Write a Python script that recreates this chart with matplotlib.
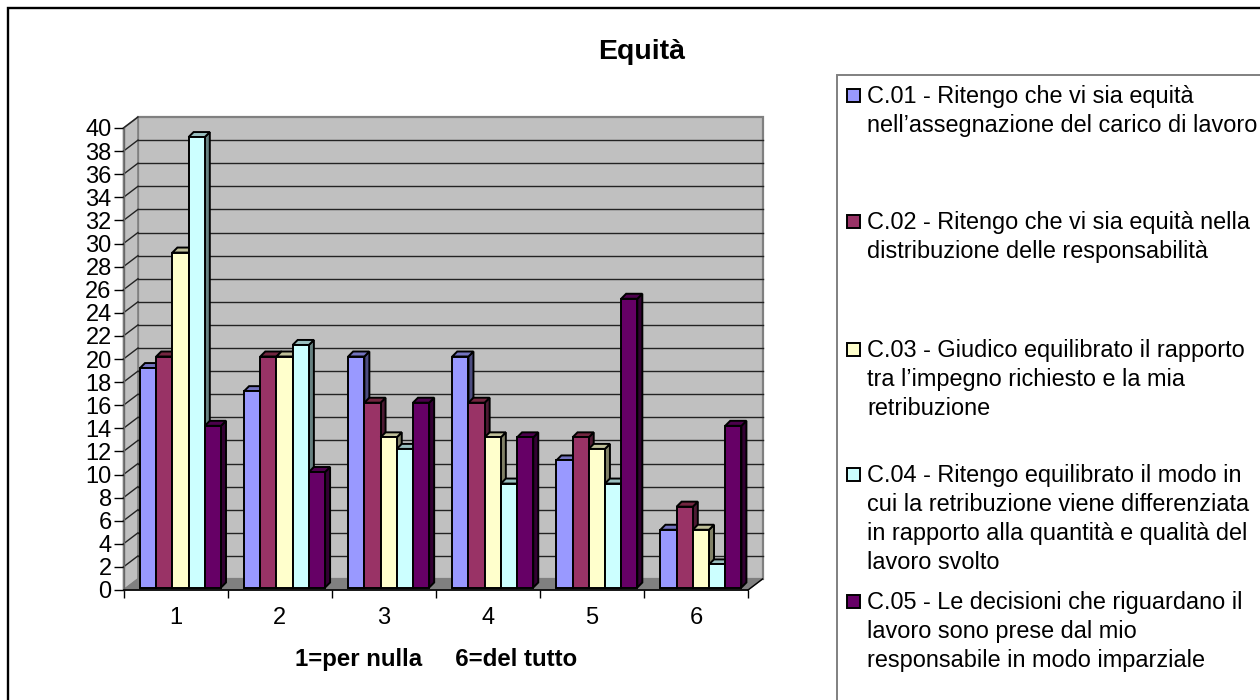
import matplotlib
matplotlib.use('Agg')
import matplotlib.pyplot as plt
from matplotlib.patches import Rectangle, Polygon

plt.rcParams['font.family'] = ['Liberation Sans', 'DejaVu Sans']

### data ###
categorie = ['1', '2', '3', '4', '5', '6']
c01 = [19, 17, 20, 20, 11, 5]
c02 = [20, 20, 16, 16, 13, 7]
c03 = [29, 20, 13, 13, 12, 5]
c04 = [39, 21, 12, 9, 9, 2]
c05 = [14, 10, 16, 13, 25, 14]
serie = [c01, c02, c03, c04, c05]
tick_y = list(range(0, 41, 2))
titolo = 'Equità'
xlabel = '1=per nulla     6=del tutto'
legenda = [
    ['C.01 - Ritengo che vi sia equità', 'nell’assegnazione del carico di lavoro'],
    ['C.02 - Ritengo che vi sia equità nella', 'distribuzione delle responsabilità'],
    ['C.03 - Giudico equilibrato il rapporto', 'tra l’impegno richiesto e la mia', 'retribuzione'],
    ['C.04 - Ritengo equilibrato il modo in', 'cui la retribuzione viene differenziata',
     'in rapporto alla quantità e qualità del', 'lavoro svolto'],
    ['C.05 - Le decisioni che riguardano il', 'lavoro sono prese dal mio',
     'responsabile in modo imparziale'],
]

colori = ['#9999FF', '#993366', '#FFFFCC', '#CCFFFF', '#660066']
colori_lato = ['#4C4C80', '#4D1A33', '#808066', '#668080', '#330033']
colori_top = ['#7373BF', '#732640', '#BFBF99', '#99BFBF', '#4D004D']
legenda_y = [103, 229, 357, 482, 609]   # baseline of first line of each entry

W, H = 1260, 700
fig = plt.figure(figsize=(W/100, H/100), dpi=100)

### page layer in pixels ###
bg = fig.add_axes([0, 0, 1, 1])
bg.set_xlim(0, W)
bg.set_ylim(H, 0)
bg.axis('off')
bg.plot([8, 8, W], [H, 7.5, 7.5], color='k', lw=1.7, solid_joinstyle='miter')
bg.plot([837, 837, W], [H, 75, 75], color='#808080', lw=1.4, solid_joinstyle='miter')
bg.text(642, 59, titolo, fontsize=20.5, fontweight='bold', ha='center', va='baseline')
bg.text(436, 666, xlabel, fontsize=17.3, fontweight='bold', ha='center', va='baseline')

for i, righe in enumerate(legenda):
    y = legenda_y[i]
    bg.add_patch(Rectangle((846.5, y-14.5), 13, 13, fc=colori[i], ec='k', lw=1.4))
    for k, r in enumerate(righe):
        bg.text(867, y+k*29, r, fontsize=16.9, ha='left', va='baseline')

### plot area: front plane of the 3D box ###
x0, x1, y0, y40 = 123.5, 748, 590, 128
ax = fig.add_axes([x0/W, 1-y0/H, (x1-x0)/W, (y0-y40)/H])
ax.patch.set_visible(False)
ax.set_xlim(0, 6)
ax.set_ylim(0, 40)
for s in ax.spines.values():
    s.set_visible(False)

ux = (x1-x0)/6   # px per category
uy = (y0-y40)/40  # px per unit
wall_dx, wall_dy = 14.5/ux, 11/uy
bar_dx, bar_dy = 5/ux, 5/uy
lift = 2.5/uy
start = 16.5/ux
w = 16.2/ux

### walls and floor ###
ax.add_patch(Polygon([(wall_dx, wall_dy), (6+wall_dx, wall_dy), (6+wall_dx, 40+wall_dy), (wall_dx, 40+wall_dy)],
                     fc='#C0C0C0', ec='#808080', lw=1.6, clip_on=False, zorder=1))
ax.add_patch(Polygon([(0, 0), (wall_dx, wall_dy), (wall_dx, 40+wall_dy), (0, 40)],
                     fc='#C0C0C0', ec='#808080', lw=1.2, clip_on=False, zorder=1))
ax.add_patch(Polygon([(0, 0), (6, 0), (6+wall_dx, wall_dy), (wall_dx, wall_dy)],
                     fc='#808080', ec='#808080', lw=1, clip_on=False, zorder=1))
for t in tick_y[1:-1]:
    ax.plot([wall_dx, 6+wall_dx], [t+wall_dy, t+wall_dy], color='#222222', lw=1, clip_on=False, zorder=2)
for t in tick_y[1:]:
    ax.plot([0, wall_dx], [t, t+wall_dy], color='#222222', lw=1, clip_on=False, zorder=2)
ax.plot([0, 0], [0, 40], color='#666666', lw=1, clip_on=False, zorder=2)
ax.plot([6, 6+wall_dx], [0, wall_dy], color='k', lw=1, clip_on=False, zorder=2)
ax.plot([0, 6], [0, 0], color='k', lw=1.2, clip_on=False, zorder=2)

### bars ###
z = 3
for g in range(len(categorie)):
    for s, val in enumerate(serie):
        v = val[g]
        xl = g + start + s*w
        xr = xl + w
        b = lift
        t = lift + v
        ax.fill([xr, xr+bar_dx, xr+bar_dx, xr], [b, b+bar_dy, t+bar_dy, t],
                fc=colori_lato[s], ec='k', lw=1.4, clip_on=False, zorder=z)
        ax.fill([xl, xr, xr+bar_dx, xl+bar_dx], [t, t, t+bar_dy, t+bar_dy],
                fc=colori_top[s], ec='k', lw=1.4, clip_on=False, zorder=z)
        ax.bar(xl, v, width=w, bottom=b, align='edge', color=colori[s], edgecolor='k', lw=1.4,
               clip_on=False, zorder=z+0.5)
        z += 1

### axes ###
ax.set_yticks(tick_y)
ax.tick_params(axis='y', length=7, width=1, pad=1.5, labelsize=17)
ax.set_xticks(range(7))
ax.set_xticklabels([])
ax.tick_params(axis='x', which='major', length=6, width=1)
ax.set_xticks([i+0.5 for i in range(6)], minor=True)
ax.set_xticklabels(categorie, minor=True, fontsize=17)
ax.tick_params(axis='x', which='minor', length=0, pad=12)

fig.savefig('out.png', dpi=100)
